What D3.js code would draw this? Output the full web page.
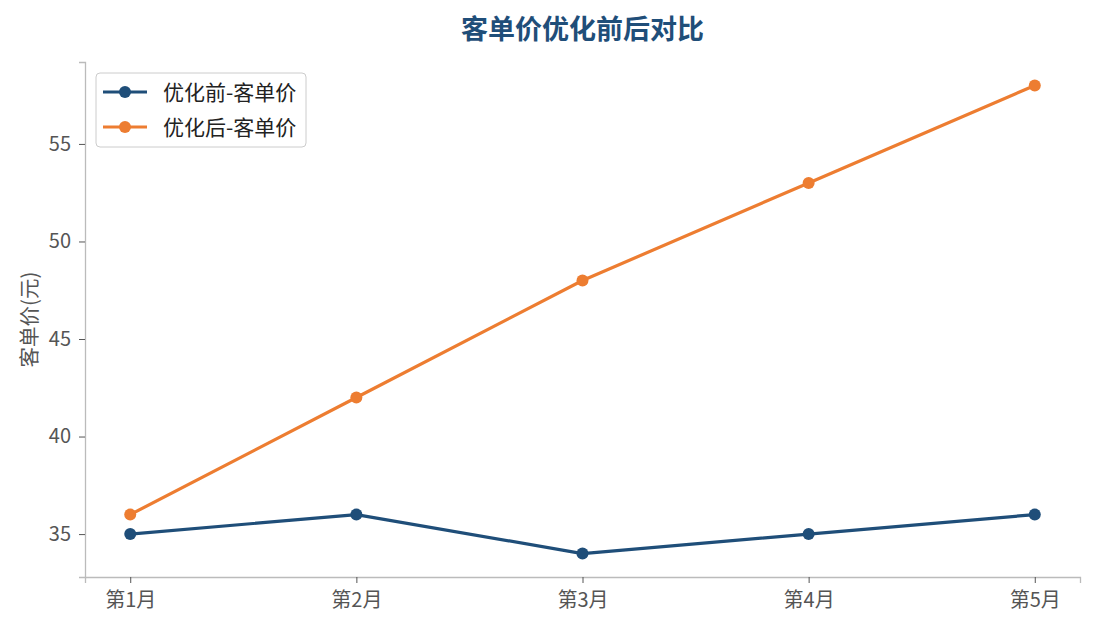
<!DOCTYPE html>
<html><head><meta charset="utf-8">
<script src="https://cdn.jsdelivr.net/npm/d3@7"></script>
<style>body{margin:0;background:#fff;font-family:"Noto Sans CJK SC","Noto Sans",sans-serif}</style>
</head><body>
<svg id="c" width="1095" height="630"></svg>
<script>
const categories = ["第1月","第2月","第3月","第4月","第5月"];
const beforeValues = [35,36,34,35,36];
const afterValues = [36,42,48,53,58];
const yTicks = [35,40,45,50,55];
const seriesNames = ["优化前-客单价","优化后-客单价"];
const colors = ["#1f4e79","#ed7d31"];

const svg = d3.select("#c");
const L=85, R=1080, T=62, B=577;
const x = d3.scaleLinear().domain([-0.2,4.2]).range([L,R]);
const allV = beforeValues.concat(afterValues);
const mn = d3.min(allV), mx = d3.max(allV), pad=(mx-mn)*0.05;
const y = d3.scaleLinear().domain([mn-pad,mx+pad]).range([B,T]);
const font = '"Noto Sans CJK SC","Noto Sans",sans-serif';

svg.append("text").attr("x",(L+R)/2).attr("y",29).attr("dy","0.36em").attr("text-anchor","middle")
  .attr("font-size",27).attr("font-weight","bold").attr("fill","#1f4e79").attr("font-family",font)
  .text("客单价优化前后对比");

const xAxis = svg.append("g").attr("transform",`translate(0,${B})`)
  .call(d3.axisBottom(x).tickValues(d3.range(categories.length)).tickFormat(i=>categories[i]).tickSize(6).tickPadding(10));
const yAxis = svg.append("g").attr("transform",`translate(${L},0)`)
  .call(d3.axisLeft(y).tickValues(yTicks).tickSize(6).tickPadding(8));
[xAxis,yAxis].forEach(a=>{
  a.select(".domain").attr("stroke","#bbbbbb").attr("stroke-width",1.3);
  a.selectAll(".tick line").attr("stroke","#555").attr("stroke-width",1);
  a.selectAll(".tick text").attr("fill","#555").attr("font-size",20).attr("font-family",font);
});

svg.append("text").attr("transform",`translate(30,${(T+B)/2}) rotate(-90)`).attr("text-anchor","middle")
  .attr("dy","0.36em").attr("font-size",20.5).attr("fill","#555").attr("font-family",font).text("客单价(元)");

const line = d3.line().x((d,i)=>x(i)).y(d=>y(d));
[beforeValues,afterValues].forEach((vals,k)=>{
  svg.append("path").datum(vals).attr("d",line).attr("fill","none")
    .attr("stroke",colors[k]).attr("stroke-width",3.2).attr("stroke-linejoin","round");
  svg.selectAll(null).data(vals).enter().append("circle")
    .attr("cx",(d,i)=>x(i)).attr("cy",d=>y(d)).attr("r",6).attr("fill",colors[k]);
});

const lg = svg.append("g");
lg.append("rect").attr("x",96).attr("y",73).attr("width",210).attr("height",74).attr("rx",4)
  .attr("fill","#fff").attr("fill-opacity",0.85).attr("stroke","#cccccc").attr("stroke-width",1);
seriesNames.forEach((n,k)=>{
  const yy = 92 + k*35;
  lg.append("line").attr("x1",103).attr("x2",147).attr("y1",yy).attr("y2",yy).attr("stroke",colors[k]).attr("stroke-width",3.2);
  lg.append("circle").attr("cx",125).attr("cy",yy).attr("r",6).attr("fill",colors[k]);
  lg.append("text").attr("x",163).attr("y",yy).attr("dy","0.36em").attr("font-size",21)
    .attr("fill","#222").attr("font-family",font).text(n);
});
</script>
</body></html>
